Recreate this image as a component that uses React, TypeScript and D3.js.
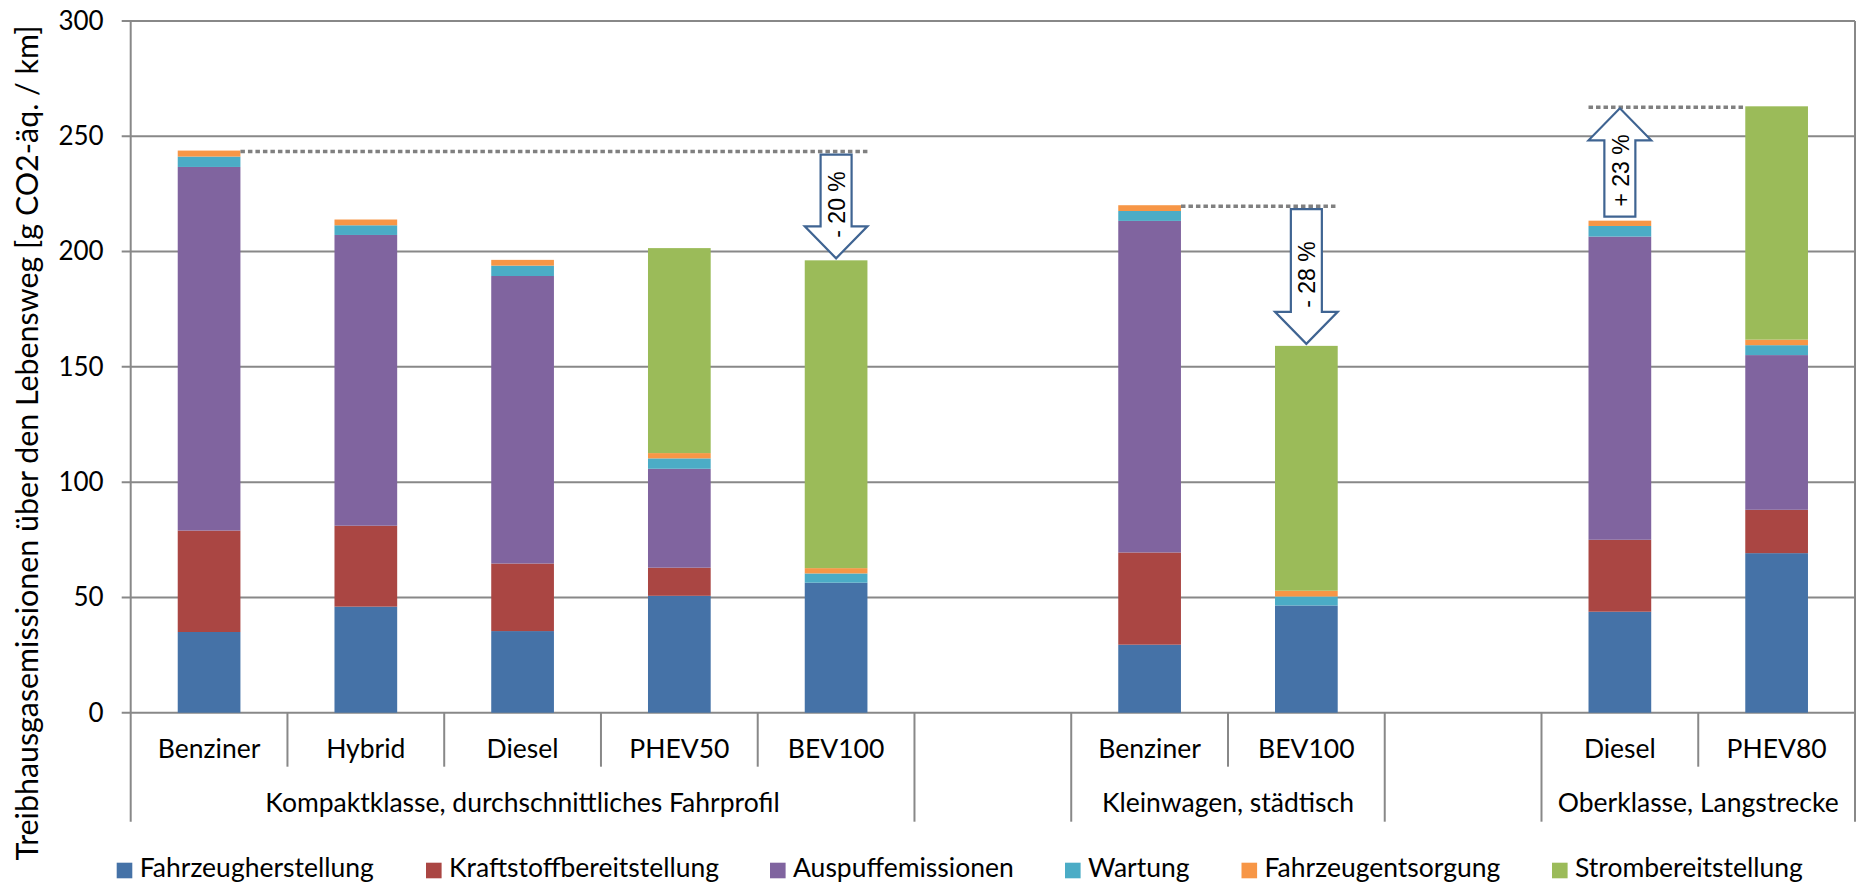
import React, { useEffect, useRef } from 'react';
import * as d3 from 'd3';

// Categories (one slot each, empty strings are spacer slots)
const vehicles = ['Benziner', 'Hybrid', 'Diesel', 'PHEV50', 'BEV100', '', 'Benziner', 'BEV100', '', 'Diesel', 'PHEV80'];
const groupLabels = ['Kompaktklasse, durchschnittliches Fahrprofil', '', 'Kleinwagen, städtisch', '', 'Oberklasse, Langstrecke'];
const groupSizes = [5, 1, 2, 1, 2];

// Series (g CO2-äq. / km)
const fahrzeugherstellung = [35.0, 46.0, 35.4, 50.7, 56.4, 0, 29.5, 46.5, 0, 43.8, 69.2];
const kraftstoffbereitstellung = [44.0, 35.1, 29.3, 12.2, 0, 0, 40.0, 0, 0, 31.2, 18.8];
const auspuffemissionen = [157.7, 126.1, 124.7, 42.9, 0, 0, 143.8, 0, 0, 131.5, 67.1];
const wartung = [4.5, 4.2, 4.5, 4.5, 4.0, 0, 4.3, 3.9, 0, 4.6, 4.3];
const fahrzeugentsorgung = [2.6, 2.5, 2.5, 2.3, 2.3, 0, 2.5, 2.5, 0, 2.3, 2.4];
const strombereitstellung = [0, 0, 0, 88.9, 133.5, 0, 0, 106.2, 0, 0, 101.2];

const seriesNames = ['Fahrzeugherstellung', 'Kraftstoffbereitstellung', 'Auspuffemissionen', 'Wartung', 'Fahrzeugentsorgung', 'Strombereitstellung'];
const seriesValues = [fahrzeugherstellung, kraftstoffbereitstellung, auspuffemissionen, wartung, fahrzeugentsorgung, strombereitstellung];
const seriesColors = ['#4572A7', '#AA4643', '#80649F', '#4BACC6', '#F79646', '#9BBB59'];

const yTicks = [0, 50, 100, 150, 200, 250, 300];

// Comparison annotations: base bar, compared bar, bar carrying the arrow, label
const compareBase = [0, 6, 9];
const compareOther = [4, 7, 10];
const compareArrowAt = [4, 7, 9];
const compareLabels = ['- 20 %', '- 28 %', '+ 23 %'];

const FONT = 'Lato, "Open Sans", sans-serif';
const AXIS = '#888888';

const App = () => {
  const chartRef = useRef<SVGSVGElement>(null);

  useEffect(() => {
    document.body.style.margin = '0';
    const width = 1860;
    const height = 886;
    const left = 130.7;
    const right = 1855;
    const top = 21;
    const base = 712.7;
    const lvl1 = 766.7;
    const lvl2 = 821.7;
    const fs = 26.5;

    const svg = d3.select(chartRef.current);
    svg.selectAll('*').remove();
    svg.attr('width', width).attr('height', height);

    const x = d3.scaleBand<number>()
      .domain(vehicles.map((_, i) => i))
      .range([left, right])
      .paddingInner(0)
      .paddingOuter(0);
    const bw = x.bandwidth();
    const barW = bw * 0.4;
    const barX = (i: number) => (x(i) as number) + (bw - barW) / 2;

    const y = d3.scaleLinear().domain([0, 300]).range([base, top]);

    // Grid lines
    svg.append('g')
      .selectAll('line')
      .data(yTicks)
      .enter()
      .append('line')
      .attr('x1', left - 9)
      .attr('x2', right)
      .attr('y1', d => y(d))
      .attr('y2', d => y(d))
      .attr('stroke', AXIS)
      .attr('stroke-width', 2);

    // Y axis labels
    const yAxis = d3.axisLeft(y).tickValues(yTicks).tickSize(0).tickPadding(27);
    const ya = svg.append('g').attr('transform', `translate(${left},0)`).call(yAxis);
    ya.select('.domain').remove();
    ya.selectAll('text')
      .attr('font-family', FONT)
      .attr('font-size', 26)
      .attr('fill', '#000');

    // Stacked bars
    const rows = vehicles.map((_, i) => {
      const r: Record<string, number> = { idx: i };
      seriesNames.forEach((n, k) => { r[n] = seriesValues[k][i]; });
      return r;
    });
    const stack = d3.stack<Record<string, number>>().keys(seriesNames);
    const layers = stack(rows);

    svg.append('g')
      .selectAll('g')
      .data(layers)
      .enter()
      .append('g')
      .attr('fill', (_, k) => seriesColors[k])
      .selectAll('rect')
      .data(d => d.filter(p => p[1] - p[0] > 0))
      .enter()
      .append('rect')
      .attr('x', d => barX(d.data.idx))
      .attr('width', barW)
      .attr('y', d => y(d[1]))
      .attr('height', d => y(d[0]) - y(d[1]));

    // Axis lines & frame
    const frame = svg.append('g').attr('stroke', AXIS).attr('stroke-width', 2);
    frame.append('line').attr('x1', left).attr('x2', left).attr('y1', top).attr('y2', lvl2);
    frame.append('line').attr('x1', right).attr('x2', right).attr('y1', top).attr('y2', lvl2);

    // Category dividers
    const bounds: number[] = [];
    let acc = 0;
    groupSizes.forEach(s => { acc += s; bounds.push(acc); });
    vehicles.forEach((_, i) => {
      if (i === 0) return;
      const isGroup = bounds.includes(i);
      frame.append('line')
        .attr('x1', x(i) as number)
        .attr('x2', x(i) as number)
        .attr('y1', base)
        .attr('y2', isGroup ? lvl2 : lvl1);
    });

    // Category labels
    svg.append('g')
      .selectAll('text')
      .data(vehicles)
      .enter()
      .append('text')
      .attr('x', (_, i) => (x(i) as number) + bw / 2)
      .attr('y', 757.7)
      .attr('text-anchor', 'middle')
      .attr('font-family', FONT)
      .attr('font-size', fs)
      .text(d => d);

    let start = 0;
    groupLabels.forEach((g, k) => {
      const x0 = x(start) as number;
      const x1 = start + groupSizes[k] >= vehicles.length ? right : (x(start + groupSizes[k]) as number);
      svg.append('text')
        .attr('x', (x0 + x1) / 2)
        .attr('y', 811.7)
        .attr('text-anchor', 'middle')
        .attr('font-family', FONT)
        .attr('font-size', fs)
        .text(g);
      start += groupSizes[k];
    });

    // Comparison lines and arrows
    const total = (i: number) => seriesValues.reduce((s, arr) => s + arr[i], 0);
    compareBase.forEach((b, k) => {
      const o = compareOther[k];
      const a = compareArrowAt[k];
      const lineBar = a === b ? o : b;
      const lineY = y(total(lineBar)) + 1;
      let lx1: number;
      let lx2: number;
      if (lineBar < a) {
        lx1 = barX(lineBar) + barW;
        lx2 = barX(a) + barW;
      } else {
        lx1 = barX(a);
        lx2 = barX(lineBar);
      }
      svg.append('line')
        .attr('x1', lx1)
        .attr('x2', lx2)
        .attr('y1', lineY)
        .attr('y2', lineY)
        .attr('stroke', '#808080')
        .attr('stroke-width', 3.5)
        .attr('stroke-dasharray', '4.5 3');

      const fromY = y(total(b));
      const toY = y(total(o));
      const cx = barX(a) + barW / 2;
      const dir = toY > fromY ? 1 : -1;
      const tail = fromY + dir * 4;
      const tip = toY - dir * 2;
      const headBase = tip - dir * 32;
      const sw = 15.5;
      const hw = barW / 2;
      const path = d3.path();
      path.moveTo(cx - sw, tail);
      path.lineTo(cx + sw, tail);
      path.lineTo(cx + sw, headBase);
      path.lineTo(cx + hw, headBase);
      path.lineTo(cx, tip);
      path.lineTo(cx - hw, headBase);
      path.lineTo(cx - sw, headBase);
      path.closePath();
      svg.append('path')
        .attr('d', path.toString())
        .attr('fill', '#fff')
        .attr('stroke', '#3F6492')
        .attr('stroke-width', 2.2)
        .attr('stroke-linejoin', 'miter');

      const mid = (tail + tip) / 2 - dir * (dir < 0 ? 8 : 2);
      svg.append('text')
        .attr('transform', `translate(${cx + 1},${mid}) rotate(-90)`)
        .attr('text-anchor', 'middle')
        .attr('dominant-baseline', 'central')
        .attr('font-family', '"Liberation Sans", Arial, sans-serif')
        .attr('font-size', 23)
        .text(compareLabels[k]);
    });

    // Y axis title
    svg.append('text')
      .attr('transform', `translate(38,443) rotate(-90)`)
      .attr('text-anchor', 'middle')
      .attr('font-family', FONT)
      .attr('font-size', 30.4)
      .text('Treibhausgasemissionen über den Lebensweg [g CO2-äq. / km]');

    // Legend (item positions follow the reference layout)
    const legendX = [116.7, 426, 770, 1065, 1241.5, 1552];
    const legend = svg.append('g');
    seriesNames.forEach((n, k) => {
      legend.append('rect')
        .attr('x', legendX[k])
        .attr('y', 862.7)
        .attr('width', 15.6)
        .attr('height', 15.6)
        .attr('fill', seriesColors[k]);
      legend.append('text')
        .attr('x', legendX[k] + 23)
        .attr('y', 876.7)
        .attr('font-family', FONT)
        .attr('font-size', fs)
        .text(n);
    });
  }, []);

  return <svg ref={chartRef} style={{ display: 'block' }}></svg>;
};

export default App;
